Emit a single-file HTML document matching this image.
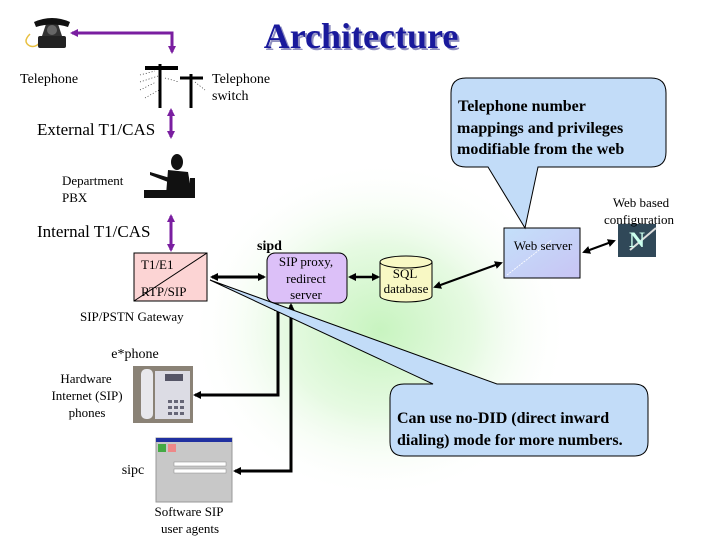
<!DOCTYPE html>
<html><head><meta charset="utf-8"><style>
html,body{margin:0;padding:0;background:#fff}
svg{display:block}
text{font-family:"Liberation Serif",serif}
</style></head><body>
<svg width="720" height="540" viewBox="0 0 720 540" xmlns="http://www.w3.org/2000/svg">
<defs>
<radialGradient id="g" cx="0.5" cy="0.5" r="0.5">
<stop offset="0" stop-color="#c8f4c0"/><stop offset="0.5" stop-color="#e6fae2"/><stop offset="1" stop-color="#fff" stop-opacity="0"/>
</radialGradient>
<marker id="ab" markerWidth="8" markerHeight="8" refX="6" refY="4" orient="auto-start-reverse" markerUnits="userSpaceOnUse"><path d="M0,0 L8,4 L0,8 z" fill="#000"/></marker>
<marker id="ap" markerWidth="8" markerHeight="8" refX="6" refY="4" orient="auto-start-reverse" markerUnits="userSpaceOnUse"><path d="M0,0 L8,4 L0,8 z" fill="#7a1ea0"/></marker>
<linearGradient id="ws" x1="0" y1="0" x2="1" y2="1"><stop offset="0" stop-color="#c4e0fa"/><stop offset="1" stop-color="#c8c4f4"/></linearGradient>
</defs>
<ellipse cx="380" cy="330" rx="190" ry="170" fill="url(#g)"/>
<text x="361" y="48" text-anchor="middle" font-size="36" font-weight="bold" fill="#9090c0" transform="translate(2,2)">Architecture</text>
<text x="361" y="48" text-anchor="middle" font-size="36" font-weight="bold" fill="#1a1a9c">Architecture</text>

<!-- telephone icon -->
<g>
<path d="M30,34 q-8,8 0,12 q6,2 10,-4" stroke="#e8c040" fill="none" stroke-width="1.5"/>
<rect x="38" y="36" width="28" height="12" rx="2" fill="#222"/>
<path d="M42,36 L46,24 L58,24 L62,36z" fill="#333"/>
<circle cx="52" cy="30" r="5" fill="#666"/>
<path d="M34,22 q18,-8 36,0 l-2,5 q-16,-5 -32,0z" fill="#111"/>
</g>
<path d="M172,52 L172,33 L72,33" stroke="#7a1ea0" stroke-width="3" fill="none" marker-start="url(#ap)" marker-end="url(#ap)"/>
<text x="20" y="83" font-size="14">Telephone</text>

<!-- switch icon -->
<g stroke="#000">
<line x1="160" y1="64" x2="160" y2="108" stroke-width="3"/>
<line x1="191" y1="74" x2="191" y2="108" stroke-width="3"/>
<line x1="145" y1="68" x2="178" y2="68" stroke-width="4"/>
<line x1="180" y1="78" x2="203" y2="78" stroke-width="3"/>
<path d="M140,75 l15,-4 M140,82 l18,-6 M140,90 l16,-8 M145,98 l14,-8 M165,78 l14,4 M195,82 l10,8" stroke-width="0.6" stroke-dasharray="1,2"/>
</g>
<text x="212" y="83" font-size="14">Telephone</text>
<text x="212" y="100" font-size="14">switch</text>

<line x1="171" y1="110" x2="171" y2="137" stroke="#7a1ea0" stroke-width="3" marker-start="url(#ap)" marker-end="url(#ap)"/>
<text x="37" y="135" font-size="17">External T1/CAS</text>

<!-- PBX icon -->
<g fill="#111">
<ellipse cx="177" cy="162" rx="6" ry="8"/>
<path d="M168,170 L188,172 L192,195 L166,195z"/>
<path d="M150,172 L170,178 L168,182 L150,175z"/>
<rect x="144" y="190" width="50" height="8"/>
<rect x="190" y="178" width="5" height="20"/>
</g>
<text x="62" y="185" font-size="13">Department</text>
<text x="62" y="202" font-size="13">PBX</text>

<line x1="171" y1="216" x2="171" y2="250" stroke="#7a1ea0" stroke-width="3" marker-start="url(#ap)" marker-end="url(#ap)"/>
<text x="37" y="237" font-size="17">Internal T1/CAS</text>

<!-- gateway -->
<rect x="134" y="253" width="73" height="48" fill="#fcd4d4" stroke="#000"/>
<line x1="134" y1="301" x2="207" y2="253" stroke="#000"/>
<text x="141" y="269" font-size="13">T1/E1</text>
<text x="141" y="296" font-size="13">RTP/SIP</text>
<text x="80" y="321" font-size="13">SIP/PSTN Gateway</text>

<line x1="212" y1="277" x2="264" y2="277" stroke="#000" stroke-width="3" marker-start="url(#ab)" marker-end="url(#ab)"/>

<!-- SIP proxy -->
<text x="257" y="250" font-size="14" font-weight="bold">sipd</text>
<rect x="267" y="253" width="80" height="50" rx="8" fill="#dcc0f8" stroke="#000"/>
<text x="306" y="266" font-size="13" text-anchor="middle">SIP proxy,</text>
<text x="306" y="283" font-size="13" text-anchor="middle">redirect</text>
<text x="306" y="299" font-size="13" text-anchor="middle">server</text>

<line x1="350" y1="277" x2="378" y2="277" stroke="#000" stroke-width="2.5" marker-start="url(#ab)" marker-end="url(#ab)"/>

<!-- SQL -->
<path d="M380,262 L380,296 A26,6 0 0 0 432,296 L432,262" fill="#f8f8c4" stroke="#000"/>
<ellipse cx="406" cy="262" rx="26" ry="6" fill="#f8f8c4" stroke="#000"/>
<text x="405" y="278" font-size="13" text-anchor="middle">SQL</text>
<text x="406" y="293" font-size="13" text-anchor="middle">database</text>

<line x1="435" y1="287" x2="501" y2="263" stroke="#000" stroke-width="2" marker-start="url(#ab)" marker-end="url(#ab)"/>

<!-- web server -->
<rect x="504" y="228" width="76" height="50" fill="url(#ws)" stroke="#000"/>
<line x1="507" y1="275" x2="552" y2="240" stroke="#fff" stroke-width="0.8" stroke-dasharray="2,1"/>
<text x="543" y="250" font-size="13" text-anchor="middle">Web server</text>
<line x1="584" y1="252" x2="614" y2="241" stroke="#000" stroke-width="2" marker-start="url(#ab)" marker-end="url(#ab)"/>
<rect x="618" y="224" width="38" height="33" fill="#304858"/>
<path d="M630,250 L656,228" stroke="#ddd" stroke-width="2"/>
<text x="637" y="247" font-size="22" text-anchor="middle" fill="#cfe" font-weight="bold">N</text>
<text x="641" y="207" font-size="13" text-anchor="middle">Web based</text>
<text x="639" y="224" font-size="13" text-anchor="middle">configuration</text>

<!-- top callout -->
<path d="M466,78 L651,78 Q666,78 666,93 L666,152 Q666,167 651,167 L538,167 L525,228 L488,167 L466,167 Q451,167 451,152 L451,93 Q451,78 466,78z" fill="#c2dcf8" stroke="#000"/>
<text x="458" y="111" font-size="16" font-weight="bold">Telephone number</text>
<text x="457" y="133" font-size="16" font-weight="bold">mappings and privileges</text>
<text x="457" y="154" font-size="16" font-weight="bold">modifiable from the web</text>

<!-- black connectors to phones -->
<path d="M278,305 L278,395 L195,395" stroke="#000" stroke-width="3" fill="none" marker-start="url(#ab)" marker-end="url(#ab)"/>
<path d="M291,305 L291,471 L235,471" stroke="#000" stroke-width="3" fill="none" marker-start="url(#ab)" marker-end="url(#ab)"/>

<!-- bottom callout -->
<path d="M404,384 L433,384 L210,280 L497,384 L634,384 Q648,384 648,398 L648,442 Q648,456 634,456 L404,456 Q390,456 390,442 L390,398 Q390,384 404,384z" fill="#c2dcf8" stroke="#000"/>
<text x="397" y="423" font-size="16" font-weight="bold">Can use no-DID (direct inward</text>
<text x="397" y="445" font-size="16" font-weight="bold">dialing) mode for more numbers.</text>

<!-- hardware phone -->
<rect x="133" y="366" width="60" height="57" fill="#8a8276"/>
<rect x="141" y="369" width="12" height="50" rx="5" fill="#e8e8ec"/>
<rect x="155" y="371" width="35" height="48" fill="#dcdce4"/>
<rect x="165" y="374" width="18" height="7" fill="#556"/>
<g fill="#667"><rect x="168" y="400" width="4" height="3"/><rect x="174" y="400" width="4" height="3"/><rect x="180" y="400" width="4" height="3"/><rect x="168" y="406" width="4" height="3"/><rect x="174" y="406" width="4" height="3"/><rect x="180" y="406" width="4" height="3"/><rect x="168" y="412" width="4" height="3"/><rect x="174" y="412" width="4" height="3"/><rect x="180" y="412" width="4" height="3"/></g>
<text x="135" y="358" font-size="14" text-anchor="middle">e*phone</text>
<text x="86" y="383" font-size="13" text-anchor="middle">Hardware</text>
<text x="87" y="400" font-size="13" text-anchor="middle">Internet (SIP)</text>
<text x="87" y="417" font-size="13" text-anchor="middle">phones</text>

<!-- softphone -->
<rect x="156" y="438" width="76" height="64" fill="#c8c8c8" stroke="#999"/>
<rect x="156" y="438" width="76" height="4" fill="#2030a0"/>
<rect x="158" y="444" width="8" height="8" fill="#4a4"/><rect x="168" y="444" width="8" height="8" fill="#e88"/>
<rect x="174" y="462" width="52" height="4" fill="#fff" stroke="#888" stroke-width="0.5"/>
<rect x="174" y="469" width="52" height="4" fill="#fff" stroke="#888" stroke-width="0.5"/>
<text x="133" y="474" font-size="14" text-anchor="middle">sipc</text>
<text x="189" y="516" font-size="13" text-anchor="middle">Software SIP</text>
<text x="190" y="533" font-size="13" text-anchor="middle">user agents</text>
</svg>
</body></html>
